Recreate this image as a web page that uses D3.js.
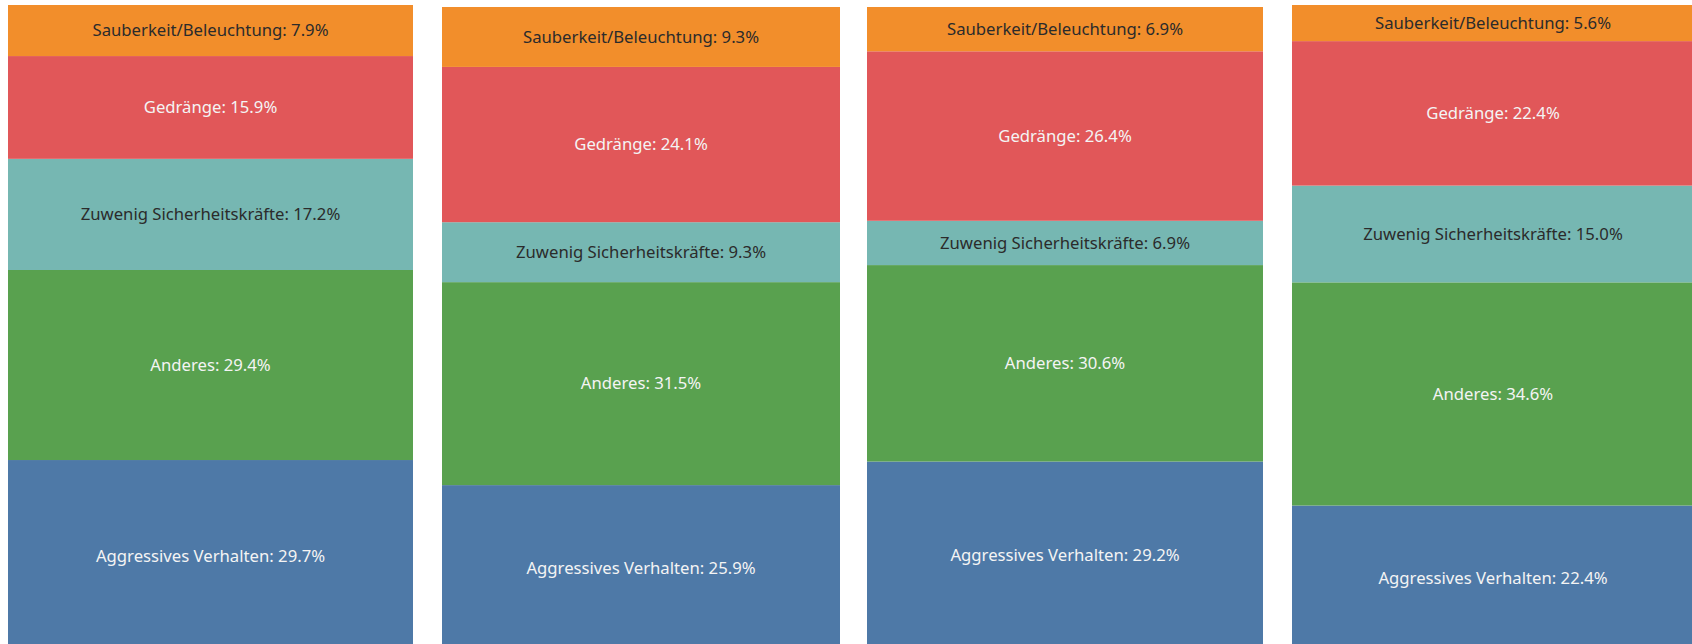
<!DOCTYPE html>
<html>
<head>
<meta charset="utf-8">
<script src="https://cdn.jsdelivr.net/npm/d3@7"></script>
<style>
  html, body { margin: 0; padding: 0; background: #fff; overflow: hidden; }
  svg text { font-family: "Noto Sans", sans-serif; font-size: 16.7px; }
</style>
</head>
<body>
<div id="chart"></div>
<script>
// stacking order, bottom to top
const categories = ["Aggressives Verhalten", "Anderes", "Zuwenig Sicherheitskräfte", "Gedränge", "Sauberkeit/Beleuchtung"];
const colors = ["#4e79a7", "#59a14f", "#76b7b2", "#e15759", "#f28e2b"];
const darkText = ["Zuwenig Sicherheitskräfte", "Sauberkeit/Beleuchtung"];

const panel1 = [29.7, 29.4, 17.2, 15.9, 7.9];
const panel2 = [25.9, 31.5, 9.3, 24.1, 9.3];
const panel3 = [29.2, 30.6, 6.9, 26.4, 6.9];
const panel4 = [22.4, 34.6, 15.0, 22.4, 5.6];

const w = 1692;
const h = 644;

// each sheet sits in its own box (tableau dashboard style)
const layout = [
  {x0: 8,    x1: 413,  top: 5, bottom: 652},
  {x0: 442,  x1: 840,  top: 7, bottom: 652},
  {x0: 867,  x1: 1263, top: 7, bottom: 649},
  {x0: 1292, x1: 1694, top: 5, bottom: 650}
];

const rows = [panel1, panel2, panel3, panel4].map(vals => {
  const row = {};
  categories.forEach((c, i) => row[c] = vals[i]);
  return row;
});

const stacked = d3.stack().keys(categories)(rows);
const color = d3.scaleOrdinal().domain(categories).range(colors);

const svg = d3.select("#chart")
  .append("svg")
  .attr("width", w)
  .attr("height", h);

layout.forEach((box, p) => {
  const yScale = d3.scaleLinear()
    .domain([0, d3.sum(categories, c => rows[p][c])])
    .range([box.bottom, box.top]);

  const g = svg.append("g").attr("class", "panel");

  //-----------------segments-----------------------
  g.selectAll("rect")
    .data(stacked.map(s => ({key: s.key, d: s[p]})))
    .enter()
    .append("rect")
      .attr("x", box.x0)
      .attr("width", box.x1 - box.x0)
      .attr("y", s => yScale(s.d[1]))
      .attr("height", s => yScale(s.d[0]) - yScale(s.d[1]))
      .attr("fill", s => color(s.key));

  g.selectAll("text")
    .data(stacked.map(s => ({key: s.key, d: s[p]})))
    .enter()
    .append("text")
      .attr("x", (box.x0 + box.x1) / 2)
      .attr("y", s => (yScale(s.d[0]) + yScale(s.d[1])) / 2)
      .attr("dy", "0.35em")
      .attr("text-anchor", "middle")
      .attr("fill", s => darkText.includes(s.key) ? "#2b2b2b" : "#f4f4f4")
      .text(s => s.key + ": " + (s.d[1] - s.d[0]).toFixed(1) + "%");
});
</script>
</body>
</html>
